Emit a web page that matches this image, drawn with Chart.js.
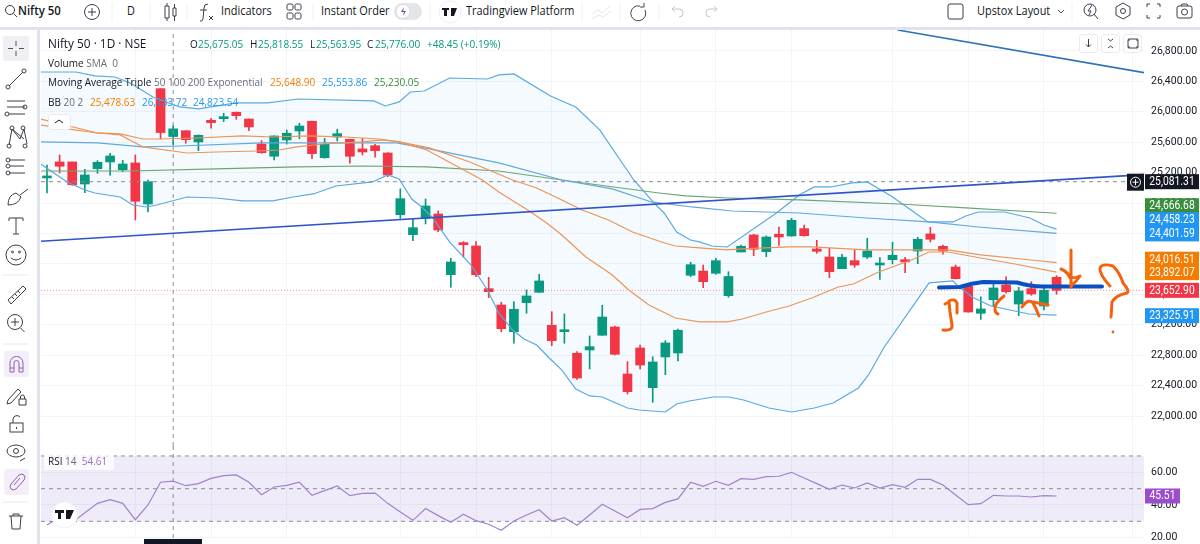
<!DOCTYPE html>
<html lang="en">
<head>
<meta charset="UTF-8">
<title>Nifty 50 chart</title>
<script src="https://cdn.jsdelivr.net/npm/chart.js"></script>
<style>
  html, body { margin: 0; padding: 0; background: #fff; overflow: hidden; }
  body { width: 1200px; height: 544px; position: relative; font-family: "Open Sans", sans-serif; color: #131722; }
  canvas { position: absolute; left: 0; }
  #priceChart { top: 30px; }
  #rsiChart { top: 446px; }
  .band { position: absolute; background: #e0e3eb; }
  /* the screenshot is squeezed sideways, so the text is too */
  .t { position: absolute; white-space: nowrap; font-size: 11px; line-height: 14px; transform: scaleX(.91); transform-origin: left center; }
  .bar { font-size: 12px; }
  .grey { color: #6a6d78; }
  .green { color: #089981; }
  .orange { color: #f57c00; }
  .blue { color: #2196f3; }
  .mgreen { color: #388e3c; }
  .purple { color: #9c6fc4; }
  #overlay, #icons { position: absolute; left: 0; top: 0; pointer-events: none; }
  .btn { position: absolute; background: #fff; border: 1px solid #e8eaf0; border-radius: 3px; box-sizing: border-box; }
</style>
</head>
<body>

<canvas id="priceChart" width="1200" height="416"></canvas>
<canvas id="rsiChart" width="1200" height="94"></canvas>

<div class="band" style="left:0;top:27px;width:1200px;height:3px"></div>
<div class="band" style="left:37px;top:27px;width:3px;height:517px"></div>
<div style="position:absolute;left:144px;top:539px;width:58px;height:5px;background:#131722"></div>

<!-- top toolbar -->
<div class="t bar" style="left:18px;top:4px;font-size:12.5px;font-weight:600">Nifty 50</div>
<div class="t bar" style="left:127px;top:4px">D</div>
<div class="t bar" style="left:221px;top:4px">Indicators</div>
<div class="t bar" style="left:321px;top:4px">Instant Order</div>
<div class="t bar" style="left:466px;top:4px">Tradingview Platform</div>
<div class="t bar" style="left:977px;top:4px">Upstox Layout</div>

<!-- legends -->
<div class="t" style="left:48px;top:36px;font-size:13px">Nifty 50 · 1D · NSE</div>
<div class="t" style="left:190px;top:37px">O</div>
<div class="t green" style="left:198px;top:37px">25,675.05</div>
<div class="t" style="left:250px;top:37px">H</div>
<div class="t green" style="left:258px;top:37px">25,818.55</div>
<div class="t" style="left:310px;top:37px">L</div>
<div class="t green" style="left:316px;top:37px">25,563.95</div>
<div class="t" style="left:367px;top:37px">C</div>
<div class="t green" style="left:375px;top:37px">25,776.00</div>
<div class="t green" style="left:427px;top:37px">+48.45 (+0.19%)</div>
<div class="t" style="left:48px;top:56px">Volume <span class="grey">SMA &nbsp;0</span></div>
<div class="t" style="left:48px;top:75px">Moving Average Triple <span class="grey">50 100 200 Exponential</span></div>
<div class="t orange" style="left:270px;top:75px">25,648.90</div>
<div class="t blue" style="left:322px;top:75px">25,553.86</div>
<div class="t mgreen" style="left:374px;top:75px">25,230.05</div>
<div class="t" style="left:48px;top:95px">BB <span class="grey">20 2</span></div>
<div class="t orange" style="left:90px;top:95px">25,478.63</div>
<div class="t blue" style="left:142px;top:95px">26,133.72</div>
<div class="t blue" style="left:193px;top:95px">24,823.54</div>
<div class="btn" style="left:48px;top:114px;width:23px;height:16px"></div>
<div style="position:absolute;left:44px;top:453px;width:70px;height:17px;background:rgba(255,255,255,.75)"></div>
<div class="t" style="left:48px;top:454px">RSI <span class="grey">14</span> &nbsp;<span class="purple">54.61</span></div>

<div class="btn" style="left:1079px;top:34px;width:19px;height:19px"></div>
<div class="btn" style="left:1101px;top:34px;width:19px;height:19px"></div>
<div class="btn" style="left:1123px;top:34px;width:19px;height:19px"></div>

<svg id="icons" width="1200" height="544" fill="none" stroke="#3a3e49" stroke-width="1"></svg>

<!-- hand drawn marks on the screenshot -->
<svg id="overlay" width="1200" height="544" fill="none" stroke-linecap="round" stroke-linejoin="round">
  <path d="M939 287.5 L960 287 Q972 283 983 282 L1017 282.5 Q1030 286.5 1043 286.5 L1102 286.5" stroke="#0b4fc4" stroke-width="4"/>
  <g stroke="#f4610f" stroke-width="3">
    <path d="M943 330 Q953 331 952 325 L950 312 L949 302 L945 304 M949 301 Q955 298 957 303 L957 313"/>
    <path d="M1004 296 Q994 304 995 309 Q995 313 998 314"/>
    <path d="M1022 307 Q1028 298 1033 303 Q1036 308 1039 316 M1033 302 L1048 305"/>
    <path d="M1071 250 L1071 287 M1061 269 Q1068 272 1070 278 Q1076 278 1080 276 Q1076 282 1072 285"/>
    <path d="M1110 286 Q1099 274 1100 268 Q1102 263 1113 266 Q1120 273 1123 283 Q1130 291 1127 293 Q1116 295 1112 302 L1111 317"/>
  </g>
  <circle cx="1113" cy="332" r="1.4" fill="#f4610f"/>
</svg>

<script>
  // price pane candles (index = candle position)
  const opens = [25130,25341,25341,25051,25253,25341,25239,25328,24788,26305,25675.05,25752,25604,25889,25910,25994,25906,25577,25416,25630,25748,25876,25397,25669,25639,25512,25555,25459,24648,24385,24600,24657,23859,24280,24236,23675,23460,23109,23491,23627,23193,23109,22825,22869,23062,23171,22553,22895,22373,22777,22829,23851,23907,23877,23583,24157,24381,24161,24390,24368,24464,24197,24091,23938,24043,24091,23986,24056,24056,24170,24394,24232,23960,23706,23351,23530,23723,23473,23675,23447,23824];
  const highs = [25301,25433,25341,25245,25358,25455,25363,25433,25104,26305,25818.55,25752,25696,25915,25981,25998,25906,25621,25683,25761,25850,25880,25652,25771,25643,25652,25573,25463,24986,24587,24854,24696,24074,24293,24293,23824,23496,23504,23658,23864,23372,23342,22846,23053,23456,23184,22715,22934,22780,22991,23145,24022,23986,24074,23898,24249,24390,24368,24486,24600,24512,24311,24206,24127,24184,24337,24082,24285,24088,24350,24482,24249,23986,23723,23569,23746,23832,23693,23767,23680,23846];
  const lows = [24933,25196,25032,24937,25192,25166,25213,24578,24683,25643,25563.95,25587,25489,25784,25871,25902,25752,25455,25367,25577,25647,25384,25389,25617,25324,25433,25403,25147,24600,24306,24525,24424,23693,24088,23832,23556,23109,22957,23351,23622,22925,22957,22483,22619,23062,22803,22290,22619,22181,22544,22724,23832,23688,23864,23562,24157,24109,24095,24245,24364,24364,24140,23819,23938,23956,24069,23798,24000,23885,24003,24289,24127,23802,23364,23272,23447,23614,23319,23588,23395,23601];
  const closes = [25157,25284,25042,25170,25337,25420,25314,24824,25082,25727.55,25776,25634,25692,25858,25933,25950,25801,25463,25683,25718,25814,25450,25573,25713,25416,25472,25489,25170,24858,24477,24762,24446,24026,24253,23859,23635,23149,23404,23579,23776,22991,23118,22500,22912,23302,22812,22320,22671,22711,22961,23128,23990,23767,24043,23835,24232,24193,24354,24354,24574,24371,24166,23898,24088,23986,24170,23995,24114,24026,24324,24324,24170,23806,23368,23408,23684,23635,23644,23605,23654,23652.9];

  // indicator lines: candle position + price at each visible bend
  const bbUpperX = [-0.5,2.3,3.8,5.4,6.6,8.4,10.5,12,15,17.5,19.9,25.9,26.8,27.9,28.8,29.9,31.9,34.9,35.8,37,39.9,41.9,43.8,46.5,48.1,48.9,49.9,51,51.7,52.7,53.9,57.8,59.6,60.8,62.1,63.8,65,66.9,68.8,69.8,71.8,72.8,73.8,75.9,77.9,79,80];
  const bbUpperY = [26524,26524,26472,26458,26380,26195,26064,26038,26117,26117,26169,26143,26077,26130,26261,26274,26445,26432,26485,26498,26209,26064,25762,25104,24802,24670,24420,24315,24289,24236,24223,24670,24907,25012,25012,25065,25078,24894,24670,24552,24552,24631,24683,24683,24604,24512,24458.23];
  const bbLowerX = [-0.5,0.2,1.6,3,3.8,5.8,6.8,7.9,8.7,11.1,13.4,15.5,17.9,19.5,21.1,22.9,25.8,27,27.9,28.9,29.7,30.5,31.9,33.6,34.9,35.8,36.9,37.8,38.8,39.8,40.8,41.9,43,44,44.9,46,46.9,49,49.9,50.9,52.8,54,55.2,57.2,59,60.8,62.3,64.3,65.1,66.3,69.9,71.8,72.1,73.3,74.8,77.8,80];
  const bbLowerY = [25314,25235,25078,24972,24933,24880,24775,24749,24775,24880,24867,24828,24828,24880,24920,25025,25078,25170,25117,24854,24749,24617,24289,23986,23657,23355,23131,23013,22934,22763,22605,22355,22264,22250,22185,22106,22079,22053,22158,22198,22250,22250,22211,22106,22053,22106,22172,22369,22540,22895,23750,23776,23723,23565,23447,23342,23325.91];
  const bbBasisX = [-0.5,1.6,4,5.8,7.6,11.1,13.4,16.6,18.4,19.8,21.8,25,26.6,27.9,30.1,32.3,34.5,35.8,38.1,39.6,40.8,42.7,44.8,46.1,47.7,49.8,51.7,53.9,55.1,57,58.8,60.6,62.7,63.9,65.9,68.5,69.9,71.4,74,76.7,80];
  const bbBasisY = [25827,25775,25722,25696,25538,25459,25472,25485,25498,25538,25577,25604,25630,25604,25498,25301,25104,24946,24710,24538,24381,24091,23855,23657,23460,23289,23237,23237,23276,23368,23447,23552,23697,23736,23894,24052,24157,24157,24078,23999,23892.07];
  const ma50X = [-0.5,4,5.8,7.6,8.9,11.9,15.5,17.9,20.8,23.7,26.3,27.9,30.3,33.5,36.9,38.8,40.8,42.4,44.5,46.4,48.7,49.8,51.7,53.9,55.1,58.8,60.6,64.9,68.5,71.4,74,78,80];
  const ma50Y = [25906,25722,25709,25643,25643,25656,25683,25669,25683,25669,25643,25604,25525,25341,25104,24999,24841,24710,24578,24420,24289,24236,24210,24184,24197,24223,24223,24184,24184,24184,24118,24052,24016.51];
  const ma100X = [-0.5,4,7.6,10.5,17.1,22.4,27.7,30.3,35.8,40.8,44.8,47.9,51.1,54.3,59.6,64.9,69.9,73.8,80];
  const ma100Y = [25604,25591,25538,25551,25591,25591,25591,25512,25328,25104,24986,24815,24749,24696,24670,24604,24552,24486,24401.59];
  const ma200X = [-0.5,6.6,13.4,19.8,25,30.1,35.8,40.8,44.3,48.5,50.6,54,59.6,67.5,72.8,80];
  const ma200Y = [25222,25222,25249,25275,25288,25275,25222,25104,25025,24933,24894,24867,24841,24788,24736,24666.68];

  // trend lines drawn on the chart
  const trendRisingX = [-0.5,86.93];
  const trendRisingY = [24298,25174];
  const trendFallingX = [67.4,86.93];
  const trendFallingY = [27076,26515];

  const priceTicks = [22000,22400,22800,23200,23600,24000,24400,24800,25200,25600,26000,26400,26800];
  const timeGrid = [7,13,19,28,34,40,47,53,59,67,73,79,86];
  const crossIndex = 10;
  const crossPrice = 25081.31;
  const lastPrice = 23652.90;

  // labels on the price scale: value, colour, nudge used to stop them overlapping
  const tagValues = [25081.31,24666.68,24458.23,24401.59,24016.51,23892.07,23652.90,23325.91];
  const tagColours = ['#131722','#388e3c','#2196f3','#2196f3','#f57c00','#f57c00','#f23645','#2196f3'];
  const tagNudges = [0,-7.5,-9.5,0.5,-3.5,0.5,0,0.5];

  // RSI pane
  const rsiValues = [27.8,32.4,29.2,35.3,41,43.3,41,31,40,53.9,54.61,51.8,53.1,56.3,58,58.4,53.9,46.3,51,52,53.9,45.9,48.8,51.6,45.7,47.1,47.3,41,35.7,30.6,37.8,33.5,29.4,34.3,30.4,28.2,24.5,30.2,33.9,37.1,30.2,32.2,27.6,33.9,40.4,36.3,32.2,37.3,37.8,41.6,43.7,53.9,51.4,54.5,52,56.1,55.7,57.3,57.6,60,56.5,53.1,49.6,52.2,50.4,53.5,50.4,52.4,50.8,55.7,55.7,52.2,46.1,40.2,40.8,45.9,45.5,45.5,44.9,45.7,45.51];
  const rsiTicks = [20,40,60];
  const rsiBands = [70,50,30];

  const xMin = -0.475, xMax = 86.93;
  const UP = '#089981', DOWN = '#f23645';
  const FONT_FAMILY = 'Roboto, sans-serif';
  const tickFont = { family: FONT_FAMILY, size: 10.5 };
  const gridColour = '#f2f4f9';

  const pairs = (xs, ys) => xs.map((x, i) => ({ x: x, y: ys[i] }));
  const money = v => v.toLocaleString('en-US', { minimumFractionDigits: 2, maximumFractionDigits: 2 });

  function lineSet(xs, ys, colour, width, extra) {
    return Object.assign({ type: 'line', data: pairs(xs, ys), borderColor: colour, borderWidth: width, pointRadius: 0, tension: 0, fill: false }, extra || {});
  }

  function xAxis() {
    return {
      type: 'linear', min: xMin, max: xMax, offset: false,
      border: { display: false },
      grid: { color: gridColour, offset: false, drawTicks: false },
      ticks: { display: false },
      afterBuildTicks: s => { s.ticks = timeGrid.map(v => ({ value: v })); },
      afterFit: s => { s.height = 0; s.paddingLeft = 0; s.paddingRight = 0; }
    };
  }

  function yAxis(min, max, ticks, fmt) {
    return {
      type: 'linear', position: 'right', min: min, max: max,
      border: { display: false },
      grid: { color: gridColour, drawTicks: false },
      ticks: { color: '#131722', font: tickFont, padding: 7, callback: fmt },
      afterBuildTicks: s => { s.ticks = ticks.map(v => ({ value: v })); },
      afterFit: s => { s.width = 56; s.paddingTop = 0; s.paddingBottom = 0; }
    };
  }

  function drawTag(chart, value, colour, nudge, width) {
    const c = chart.ctx;
    const y = chart.scales.y.getPixelForValue(value) + nudge;
    c.save();
    c.fillStyle = colour;
    c.fillRect(1145, y - 7.5, width, 15);
    c.fillStyle = '#fff';
    c.font = '12px ' + FONT_FAMILY;
    c.textBaseline = 'middle';
    c.textAlign = 'center';
    c.translate(1145 + width / 2, y + 0.5);
    c.scale(0.86, 1);
    c.fillText(money(value), 0, 0);
    c.restore();
  }

  const priceTags = {
    id: 'priceTags',
    afterDraw(chart) {
      tagValues.forEach((v, i) => drawTag(chart, v, tagColours[i], tagNudges[i], 54));
      // the + button beside the crosshair price
      const c = chart.ctx, y = chart.scales.y.getPixelForValue(crossPrice);
      c.save();
      c.fillStyle = '#131722';
      c.fillRect(1127, y - 8, 17, 17);
      c.strokeStyle = '#fff';
      c.beginPath();
      c.arc(1135.5, y + 0.5, 5, 0, Math.PI * 2);
      c.moveTo(1132.5, y + 0.5); c.lineTo(1138.5, y + 0.5);
      c.moveTo(1135.5, y - 2.5); c.lineTo(1135.5, y + 3.5);
      c.stroke();
      c.restore();
    }
  };

  const rsiTag = {
    id: 'rsiTag',
    afterDraw(chart) { drawTag(chart, rsiValues[rsiValues.length - 1], '#9c4dcc', 0, 35); }
  };

  const candleColours = closes.map((c, i) => (c >= opens[i] ? UP : DOWN));
  const priceTop = 27076, priceBottom = 21606;

  new Chart(document.getElementById('priceChart'), {
    type: 'bar',
    data: {
      datasets: [
        lineSet(trendRisingX, trendRisingY, '#2f55c9', 1.6),
        lineSet(trendFallingX, trendFallingY, '#2f72b8', 1.6),
        lineSet(ma50X, ma50Y, '#ee9455', 1.2),
        lineSet(bbBasisX, bbBasisY, '#ee9455', 1.2),
        lineSet(ma100X, ma100Y, '#64a8dc', 1.2),
        lineSet(ma200X, ma200Y, '#6da571', 1.2),
        lineSet(bbUpperX, bbUpperY, '#5aa9e0', 1.2),
        lineSet(bbLowerX, bbLowerY, '#5aa9e0', 1.2, { fill: { target: 6 }, backgroundColor: 'rgba(33,150,243,0.05)' }),
        lineSet([xMin, xMax], [crossPrice, crossPrice], '#8a8d96', 1, { borderDash: [4, 4] }),
        lineSet([xMin, xMax], [lastPrice, lastPrice], 'rgba(242,54,69,0.55)', 1, { borderDash: [1, 2] }),
        lineSet([crossIndex, crossIndex], [priceBottom, priceTop], '#8a8d96', 1, { borderDash: [4, 4] }),
        {
          data: opens.map((o, i) => ({ x: i, y: [o, closes[i]] })),
          backgroundColor: candleColours, barThickness: 9, grouped: false, minBarLength: 2
        },
        {
          data: lows.map((l, i) => ({ x: i, y: [l, highs[i]] })),
          backgroundColor: candleColours, barThickness: 1, grouped: false
        }
      ]
    },
    options: {
      responsive: false,
      animation: false,
      layout: { padding: { left: 41 } },
      scales: { x: xAxis(), y: yAxis(priceBottom, priceTop, priceTicks, v => money(v)) },
      plugins: { legend: { display: false }, tooltip: { enabled: false }, filler: { drawTime: 'beforeDatasetsDraw' } }
    },
    plugins: [priceTags]
  });

  const rsiX = rsiValues.map((v, i) => i);
  const rsiFlat = v => lineSet([xMin, xMax], [v, v], '#8a8d96', 1, { borderDash: [4, 4] });

  new Chart(document.getElementById('rsiChart'), {
    type: 'line',
    data: {
      datasets: [
        lineSet(rsiX, rsiValues, '#a283cb', 1.2),
        rsiFlat(rsiBands[0]),
        rsiFlat(rsiBands[1]),
        Object.assign(rsiFlat(rsiBands[2]), { fill: { target: 1 }, backgroundColor: 'rgba(126,87,194,0.12)' }),
        lineSet([crossIndex, crossIndex], [19.8, 76.1], '#8a8d96', 1, { borderDash: [4, 4] })
      ]
    },
    options: {
      responsive: false,
      animation: false,
      layout: { padding: { left: 41, bottom: 2 } },
      scales: { x: xAxis(), y: yAxis(19.8, 76.1, rsiTicks, v => v.toFixed(2)) },
      plugins: { legend: { display: false }, tooltip: { enabled: false }, filler: { drawTime: 'beforeDatasetsDraw' } }
    },
    plugins: [rsiTag]
  });

  // toolbar icons
  const PURPLE = '#8e5fb5';
  const icons = [
    // top bar
    '<circle cx="10" cy="10" r="4.5"/><path d="M13.5 13.5L17 17"/>',
    '<circle cx="92" cy="12" r="7.5"/><path d="M88 12h8M92 8v8"/>',
    '<path d="M165 6h4v12h-4zM167 3v3M167 18v3M173 8h3v8h-3zM174.5 4v4M174.5 16v5"/>',
    '<path d="M208 4q-4 0-4 4l-1 11q-1 3-3 2M200 10h7M209 16l4 4M213 16l-4 4"/>',
    '<rect x="287" y="4" width="6" height="6" rx="1.5"/><rect x="295" y="4" width="6" height="6" rx="1.5"/><rect x="287" y="13" width="6" height="6" rx="1.5"/><rect x="295" y="13" width="6" height="6" rx="1.5"/>',
    '<rect x="394" y="3" width="28" height="17" rx="8.5" fill="#e4e5e9" stroke="none"/><circle cx="403" cy="11.5" r="7" fill="#fff" stroke="#ddd"/><path d="M404 7l-3 5h3l-1 4 3-5h-3z" fill="#6a3fc0" stroke="none"/>',
    '<circle cx="450" cy="12" r="11" stroke="#eee"/><path d="M442 8h7v2h-2v6h-3v-6h-2zM451 8h6l-3 8h-3z" fill="#131722" stroke="none"/>',
    '<path d="M592 14l6-4 4 3 8-7M592 19l7-4 4 2 8-6" stroke="#e3e4e8"/>',
    '<path d="M640 6a7.5 7.5 0 1 0 5 4M644 3v4h-4" stroke="#444"/>',
    '<path d="M672 9h7q4 0 4 4t-4 4M672 9l3-3M672 9l3 3M717 9h-7q-4 0-4 4t4 4M717 9l-3-3M717 9l-3 3" stroke="#c3c5cc"/>',
    '<rect x="948" y="4" width="15" height="15" rx="2"/>',
    '<path d="M1058 10l3 3 3-3" stroke="#555"/>',
    '<circle cx="1090" cy="10" r="6"/><path d="M1094 14l4 5M1092 5l-4 6h3l-2 4"/>',
    '<path d="M1123 3l7 4v8l-7 4-7-4V7z"/><circle cx="1123" cy="11" r="2.5"/>',
    '<path d="M1147 7V4h3M1157 4h3v3M1160 15v3h-3M1150 18h-3v-3"/>',
    '<rect x="1177" y="6" width="15" height="12" rx="2"/><circle cx="1184.5" cy="12" r="3"/><path d="M1181 6l1-2h5l1 2"/>',
    '<path d="M112 3v18M150 3v18M187 3v18M313 3v18M430 3v18M582 3v18M620 3v18M659 3v18M1072 3v18" stroke="#f0f1f4"/>',
    // left bar
    '<rect x="3" y="36" width="26" height="25" rx="3" fill="#f1eef6" stroke="none"/><path d="M16 41v5M16 51v5M8 48.500h5M19 48.500h5" stroke="#555"/>',
    '<path d="M9 86L23 72"/><circle cx="8" cy="87" r="2"/><circle cx="24" cy="71" r="2"/>',
    '<path d="M7 101h18M7 107h18M9 114h16"/><circle cx="25" cy="107" r="2"/><circle cx="7" cy="114" r="2"/>',
    '<path d="M9 145l3-16 8 10 4-10 3 15M12 129l12 10"/><circle cx="12" cy="128" r="2"/><circle cx="23" cy="128" r="2"/><circle cx="9" cy="146" r="2"/><circle cx="25" cy="146" r="2"/>',
    '<path d="M9 160h16M10 166h14M9 173h16"/><circle cx="8" cy="160" r="2"/><circle cx="8" cy="166" r="2"/><circle cx="8" cy="173" r="2"/>',
    '<path d="M8 205q0-10 8-12l5 4q-3 8-13 8zM20 195l8-6"/>',
    '<path d="M9 218h14v3M9 218v3M16 218v16M13 234h6"/>',
    '<circle cx="16" cy="255" r="10"/><circle cx="12.500" cy="252" r="1"/><circle cx="19.500" cy="252" r="1"/><path d="M11 258q5 4 10 0"/>',
    '<path d="M8 300L23 286l3 3L11 304zM12 297l2 2M15 294l2 2M18 291l2 2"/>',
    '<circle cx="15" cy="322" r="7.500"/><path d="M11 322h8M15 318v8M20.500 328l4 4"/>',
    '<rect x="4" y="351" width="25" height="26" rx="3" fill="#f3eef8" stroke="none"/><path d="M10 372v-9a6.500 6.500 0 0 1 13 0v9h-4v-9a2.500 2.500 0 0 0-5 0v9zM10 368h4M19 368h4" stroke="' + PURPLE + '"/>',
    '<path d="M8 400l10-11 3 3-10 11-4 1zM19 399h7v6h-7zM20.500 399v-2a2 2 0 0 1 4 0v2"/>',
    '<rect x="10" y="423" width="13" height="9"/><path d="M13 423v-4a4 4 0 0 1 7-2M16.500 427v2"/>',
    '<ellipse cx="16" cy="451" rx="9" ry="6"/><circle cx="16" cy="451" r="2.500"/><path d="M20 461l5-3"/>',
    '<rect x="4" y="469" width="25" height="26" rx="3" fill="#f3eef8" stroke="none"/><path d="M11 484l8-9q3-2 5 0t0 5l-8 9q-3 2-5 0t0-5zM14 485l6-7" stroke="' + PURPLE + '"/>',
    '<path d="M9 516h14M13 516v-2h6v2M11 516l1 13h8l1-13"/>',
    '<path d="M3 275h25M3 344h25M3 502h25" stroke="#e8e9ee"/>',
    // pane buttons and collapse chevron
    '<path d="M55 123l4-3 4 3" stroke="#131722"/>',
    '<path d="M1088.500 39v8M1086 44.500l2.500 2.500 2.500-2.500"/>',
    '<path d="M1108 39l2.500 2 2.500-2M1108 48l2.500-2 2.500 2"/>',
    '<path d="M1129 41v-2h8v2M1129 46v2h8v-2M1129 39q-1 0-1 1v7q0 1 1 1M1137 39q1 0 1 1v7q0 1-1 1"/>',
    // TradingView badge in the RSI pane
    '<circle cx="64.500" cy="515" r="13" fill="#fff" stroke="#f0f0f4"/><path d="M55 510h9v3h-3v6h-3v-6h-3zM66 510h8l-4 9h-4z" fill="#131722" stroke="none"/>'
  ];
  document.getElementById('icons').innerHTML = icons.join('');
</script>
</body>
</html>
